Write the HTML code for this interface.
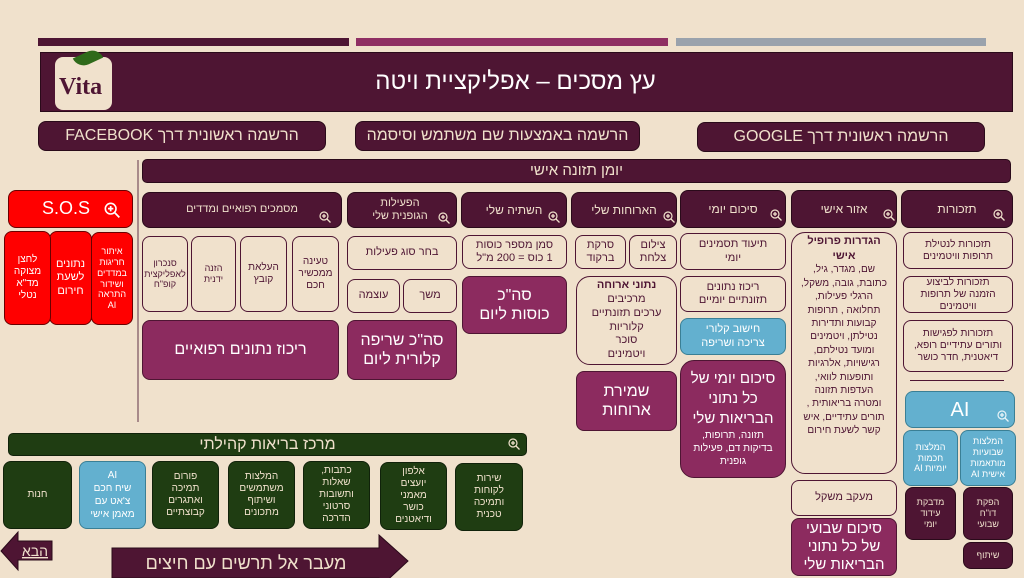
<!DOCTYPE html>
<html><head><meta charset="utf-8"><style>
*{box-sizing:border-box;margin:0;padding:0}
body{width:1024px;height:576px;background:#f0e1cc;position:relative;overflow:hidden;font-family:"Liberation Sans","DejaVu Sans",sans-serif;direction:rtl}
.b{position:absolute;display:flex;align-items:center;justify-content:center;text-align:center;border-radius:8px;line-height:1.2;padding:0 4px}
.d{background:#4e1533;color:#f0e1cc;border:1.5px solid #2a0a1a}
.c{background:#f0e1cc;color:#4e1533;border:1.5px solid #4e1533}
.m{background:#8c2b5f;color:#fff;border:1.5px solid #4e1533}
.u{background:#63b0cf;color:#fff;border:1.5px solid #3a7f95}
.g{background:#1f3d12;color:#f0e1cc;border:1.5px solid #10220a}
.r{background:#ff0000;color:#fff;border:1.5px solid #6a0000}
.z{position:absolute;width:12px;height:12px}
</style></head><body>
<div style="position:absolute;left:38px;top:38px;width:311px;height:8px;background:#4e1533"></div>
<div style="position:absolute;left:356px;top:38px;width:312px;height:8px;background:#8f2f63"></div>
<div style="position:absolute;left:676px;top:38px;width:310px;height:8px;background:#9aa2ac"></div>
<div class="b d" style="left:40px;top:52px;width:973px;height:60px;border-radius:0;font-size:24px;color:#fff"><span style="margin-right:22px">עץ מסכים – אפליקציית ויטה</span></div>
<div style="position:absolute;left:55px;top:57px;width:57px;height:53px;background:#f0e1cc;border-radius:8px;color:#4e1533;font-family:'Liberation Serif',serif;font-weight:bold;font-size:24px;direction:ltr;padding:17px 0 0 4px">Vita</div>
<div style="position:absolute;left:74px;top:52px;width:28px;height:12px;background:#2f6a1a;border-radius:0 15px 0 15px;transform:rotate(-25deg)"></div>

<div class="b d" style="left:38px;top:121px;width:288px;height:30px;font-size:16px">הרשמה ראשונית דרך FACEBOOK</div>
<div class="b d" style="left:355px;top:121px;width:285px;height:30px;font-size:16px">הרשמה באמצעות שם משתמש וסיסמה</div>
<div class="b d" style="left:697px;top:122px;width:288px;height:30px;font-size:16px">הרשמה ראשונית דרך GOOGLE</div>

<div style="position:absolute;left:137px;top:160px;width:2px;height:262px;background:#a88a8a"></div>
<div class="b d" style="left:142px;top:159px;width:869px;height:24px;font-size:15px;border-radius:5px">יומן תזונה אישי</div>

<div class="b r" style="left:8px;top:190px;width:125px;height:38px;font-size:18px;justify-content:flex-start;padding-right:42px">S.O.S</div>
<div class="b r" style="left:91px;top:232px;width:42px;height:93px;font-size:9px;padding:0 2px">איתור חריגות במדדים ושידור התראה AI</div>
<div class="b r" style="left:49px;top:231px;width:43px;height:94px;font-size:11px;padding:0 5px">נתונים לשעת חירום</div>
<div class="b r" style="left:4px;top:231px;width:47px;height:94px;font-size:10px;padding:0 6px">לחצן מצוקה מד"א נטלי</div>

<div class="b d" style="left:142px;top:192px;width:200px;height:36px;font-size:11px">מסמכים רפואיים ומדדים</div>
<div class="b d" style="left:347px;top:192px;width:110px;height:36px;font-size:11px;padding:0 18px 0 14px">הפעילות הגופנית שלי</div>
<div class="b d" style="left:461px;top:192px;width:106px;height:36px;font-size:12px">השתיה שלי</div>
<div class="b d" style="left:571px;top:192px;width:106px;height:36px;font-size:12px">הארוחות שלי</div>
<div class="b d" style="left:680px;top:190px;width:106px;height:38px;font-size:12px">סיכום יומי</div>
<div class="b d" style="left:791px;top:190px;width:106px;height:38px;font-size:12px">אזור אישי</div>
<div class="b d" style="left:901px;top:190px;width:112px;height:38px;font-size:12px">תזכורות</div>

<div class="b c" style="left:292px;top:236px;width:47px;height:76px;font-size:10px;padding:0 3px">טעינה ממכשיר חכם</div>
<div class="b c" style="left:240px;top:236px;width:47px;height:76px;font-size:10px;padding:0 8px">העלאת קובץ</div>
<div class="b c" style="left:191px;top:236px;width:45px;height:76px;font-size:9px;padding:0 8px">הזנה ידנית</div>
<div class="b c" style="left:142px;top:236px;width:46px;height:76px;font-size:9px;padding:0 5px">סנכרון לאפליקצית קופ"ח</div>
<div class="b m" style="left:142px;top:320px;width:197px;height:60px;font-size:16px">ריכוז נתונים רפואיים</div>

<div class="b c" style="left:347px;top:236px;width:110px;height:34px;font-size:11px">בחר סוג פעילות</div>
<div class="b c" style="left:403px;top:279px;width:54px;height:34px;font-size:11px">משך</div>
<div class="b c" style="left:347px;top:279px;width:53px;height:34px;font-size:11px">עוצמה</div>
<div class="b m" style="left:347px;top:320px;width:110px;height:60px;font-size:16px;padding:0 8px">סה"כ שריפה קלורית ליום</div>

<div class="b c" style="left:462px;top:235px;width:105px;height:34px;font-size:11px">סמן מספר כוסות<br>1 כוס = 200 מ"ל</div>
<div class="b m" style="left:462px;top:276px;width:105px;height:58px;font-size:16px;padding:0 14px">סה"כ כוסות ליום</div>

<div class="b c" style="left:629px;top:235px;width:48px;height:34px;font-size:11px;padding:0 7px">צילום צלחת</div>
<div class="b c" style="left:575px;top:235px;width:51px;height:34px;font-size:11px;padding:0 8px">סרקת ברקוד</div>
<div class="b c" style="left:576px;top:276px;width:101px;height:89px;font-size:11px;border-radius:14px;line-height:1.25"><div><b>נתוני ארוחה</b><br>מרכיבים<br>ערכים תזונתיים<br>קלוריות<br>סוכר<br>ויטמינים</div></div>
<div class="b m" style="left:576px;top:371px;width:101px;height:60px;font-size:16px;padding:0 16px">שמירת ארוחות</div>

<div class="b c" style="left:680px;top:233px;width:106px;height:37px;font-size:11px;padding:0 12px">תיעוד תסמינים יומי</div>
<div class="b c" style="left:680px;top:276px;width:106px;height:36px;font-size:11px;padding:0 10px">ריכוז נתונים תזונתיים יומיים</div>
<div class="b u" style="left:680px;top:318px;width:106px;height:37px;font-size:11px;padding:0 12px">חישוב קלורי צריכה ושריפה</div>
<div class="b m" style="left:680px;top:360px;width:106px;height:118px;border-radius:14px;padding:0 6px"><div><span style="font-size:15px;line-height:1.25">סיכום יומי של כל נתוני הבריאות שלי</span><br><span style="font-size:10px;line-height:1.3;display:inline-block;padding:0 6px">תזונה, תרופות, בדיקות דם, פעילות גופנית</span></div></div>

<div class="b c" style="left:791px;top:232px;width:106px;height:242px;font-size:10px;border-radius:14px;line-height:1.34;align-items:flex-start;padding:1px 8px 0"><div><b style="font-size:11px">הגדרות פרופיל אישי</b><br>שם, מגדר, גיל, כתובת, גובה, משקל, הרגלי פעילות, תחלואה , תרופות קבועות ותדירות נטילתן, ויטמינים ומועד נטילתם, רגישויות, אלרגיות ותופעות לוואי, העדפות תזונה ומטרה בריאותית , תורים עתידיים, איש קשר לשעת חירום</div></div>
<div class="b c" style="left:791px;top:480px;width:106px;height:36px;font-size:11px">מעקב משקל</div>
<div class="b m" style="left:791px;top:518px;width:106px;height:58px;font-size:15px;padding:0 8px">סיכום שבועי של כל נתוני הבריאות שלי</div>

<div class="b c" style="left:903px;top:232px;width:110px;height:37px;font-size:10px;padding:0 12px">תזכורות לנטילת תרופות וויטמינים</div>
<div class="b c" style="left:903px;top:276px;width:110px;height:37px;font-size:10px;padding:0 12px">תזכורות לביצוע הזמנה של תרופות וויטמינים</div>
<div class="b c" style="left:903px;top:320px;width:110px;height:52px;font-size:10px;padding:0 10px">תזכורות לפגישות ותורים עתידיים רופא, דיאטנית, חדר כושר</div>
<div style="position:absolute;left:910px;top:380px;width:94px;height:1px;background:#4e1533"></div>
<div class="b u" style="left:905px;top:391px;width:110px;height:37px;font-size:20px">AI</div>
<div class="b u" style="left:960px;top:430px;width:56px;height:56px;font-size:9px">המלצות שבועיות מותאמות אישית AI</div>
<div class="b u" style="left:903px;top:430px;width:55px;height:56px;font-size:9px;padding:0 6px">המלצות חכמות יומיות AI</div>
<div class="b d" style="left:963px;top:487px;width:50px;height:53px;font-size:9px;padding:0 8px">הפקת דו"ח שבועי</div>
<div class="b d" style="left:905px;top:487px;width:51px;height:53px;font-size:9px;padding:0 8px">מדבקת עידוד יומי</div>
<div class="b d" style="left:963px;top:542px;width:50px;height:27px;font-size:9px">שיתוף</div>

<div class="b g" style="left:8px;top:433px;width:519px;height:23px;font-size:16px;border-radius:5px">מרכז בריאות קהילתי</div>
<div class="b g" style="left:455px;top:463px;width:68px;height:68px;font-size:10px;padding:0 10px">שירות לקוחות ותמיכה טכנית</div>
<div class="b g" style="left:380px;top:462px;width:67px;height:68px;font-size:10px;padding:0 10px">אלפון יועצים מאמני כושר ודיאטנים</div>
<div class="b g" style="left:303px;top:461px;width:67px;height:68px;font-size:10px;padding:0 10px">כתבות, שאלות ותשובות סרטוני הדרכה</div>
<div class="b g" style="left:228px;top:461px;width:67px;height:68px;font-size:10px;padding:0 6px">המלצות משתמשים ושיתוף מתכונים</div>
<div class="b g" style="left:152px;top:461px;width:67px;height:68px;font-size:10px;padding:0 8px">פורום תמיכה ואתגרים קבוצתיים</div>
<div class="b u" style="left:79px;top:461px;width:67px;height:68px;font-size:10px;line-height:1.3;padding:0 6px">AI<br>שיח חכם צ'אט עם מאמן אישי</div>
<div class="b g" style="left:3px;top:461px;width:69px;height:68px;font-size:10px">חנות</div>

<svg style="position:absolute;left:0;top:528px" width="60" height="45"><polygon points="1,23 18,4 18,13 52,13 52,32 18,32 18,42" fill="#4e1533" stroke="#2a0a1a"/><text x="35" y="28" fill="#f0e1cc" font-size="14" text-anchor="middle" font-family="Liberation Sans, DejaVu Sans, sans-serif" text-decoration="underline">הבא</text></svg>
<svg style="position:absolute;left:110px;top:532px" width="302" height="46"><polygon points="2,16 269,16 269,3 298,29 269,56 269,46 2,46" fill="#4e1533" stroke="#2a0a1a"/><text x="136" y="37" fill="#f0e1cc" font-size="18" text-anchor="middle" font-family="Liberation Sans, DejaVu Sans, sans-serif">מעבר אל תרשים עם חיצים</text></svg>

<svg width="0" height="0" style="position:absolute"><defs><g id="mg"><circle cx="5" cy="5" r="4" fill="none" stroke="currentColor" stroke-width="1.2"/><path d="M3 5h4M5 3v4M8 8l3.5 3.5" stroke="currentColor" stroke-width="1.3"/></g></defs></svg>
<svg class="z" style="left:104px;top:202px;width:16px;height:16px;color:#fff" viewBox="0 0 12 12"><use href="#mg"/></svg>
<svg class="z" style="left:319px;top:211px;color:#f0e1cc" viewBox="0 0 12 12"><use href="#mg"/></svg>
<svg class="z" style="left:438px;top:212px;color:#f0e1cc" viewBox="0 0 12 12"><use href="#mg"/></svg>
<svg class="z" style="left:548px;top:211px;color:#f0e1cc" viewBox="0 0 12 12"><use href="#mg"/></svg>
<svg class="z" style="left:663px;top:211px;color:#f0e1cc" viewBox="0 0 12 12"><use href="#mg"/></svg>
<svg class="z" style="left:770px;top:209px;color:#f0e1cc" viewBox="0 0 12 12"><use href="#mg"/></svg>
<svg class="z" style="left:883px;top:209px;color:#f0e1cc" viewBox="0 0 12 12"><use href="#mg"/></svg>
<svg class="z" style="left:993px;top:209px;color:#f0e1cc" viewBox="0 0 12 12"><use href="#mg"/></svg>
<svg class="z" style="left:997px;top:410px;color:#e8f4f8" viewBox="0 0 12 12"><use href="#mg"/></svg>
<svg class="z" style="left:508px;top:438px;color:#f0e1cc" viewBox="0 0 12 12"><use href="#mg"/></svg>
</body></html>
